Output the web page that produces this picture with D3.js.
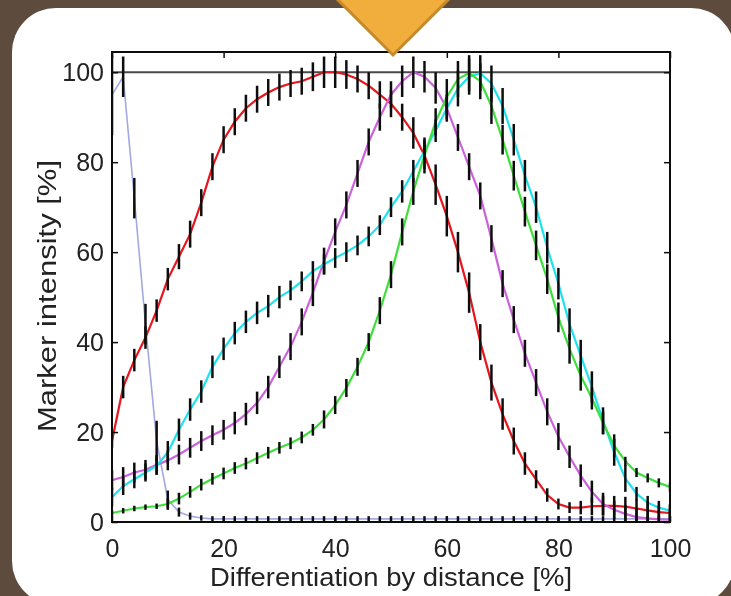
<!DOCTYPE html>
<html>
<head>
<meta charset="utf-8">
<script src="https://cdn.jsdelivr.net/npm/d3@7"></script>
<style>
html, body { margin: 0; padding: 0; background: #5d4b3e; }
svg { display: block; }
text { font-family: "Liberation Sans", Arial, sans-serif; fill: #222; }
</style>
</head>
<body>
<svg width="731" height="596"></svg>
<script>
// x positions (differentiation by distance, %)
var distance = [0,2,4,6,8,10,12,14,16,18,20,22,24,26,28,30,32,34,36,38,40,42,44,46,48,50,
                52,54,56,58,60,62,64,66,68,70,72,74,76,78,80,82,84,86,88,90,92,94,96,98,100];

// marker intensity per series
var red = [18,30,36,41,47,54,59,64,71,79, 85,89,92,94,95.5,96.7,97.5,98,99,100,
           100,99.5,98.5,97,95,93,90,86.5,81.5,75, 68,60,51,40,31,24,18,13,9.5,6,
           4,3.2,3.2,3.5,3.6,3.6,3.4,3,2.6,2.2, 2];
var redErr = [1.5,2.5,2.5,2.5,2.5,2.5,2.8,3,3,3, 3,3,3,3,3,3,3,3,3.2,3.5,
              3.5,3.2,3,3,3,3,3,3.5,4,4.5, 4.5,4.5,4.5,4,4,3.5,3,2.5,2,1.5,
              1.2,1.2,1.5,2,2.2,2.2,2.2,2,2,1.5, 1.5];

var magenta = [9.3,10,11,11.6,12.7,13.7,15,16.5,18,19.3, 20.5,22,24,26.5,30,34.5,39,44.5,51,58,
               64.5,70.5,77.5,84.5,90,95,98,100,99,96.5, 92,85.5,79,72.5,63,53,45,37.5,31,24.5,
               19,14.5,10.3,6.7,4,2.7,1.8,1.1,0.8,0.6, 0.5];
var magentaErr = [2.2,2.2,2.2,2.2,2.2,2.2,2.2,2.2,2.2,2.2, 2.2,2.5,2.5,2.5,2.5,2.5,3,3,3,3,
                  3,3,3,3,3,3,3.5,3.5,3.5,3.5, 3,3,3,3,3,3,3,3,3,3,
                  3,2.5,2.5,2.5,2.5,2,2,2,2,2, 2];

var cyan = [5.5,8,9.5,11,12.5,15.5,20.5,25,29,34.5, 38.5,42,44.5,46.5,48,50,51.5,53.5,55.8,57.3,
            58.7,60,61.5,63.5,66,70,73.5,78,82.5,87, 92,96.4,99,99.8,97.5,92.5,85,77,70,61,
            53,44,37,30,22.5,15.5,9.7,6.3,4.3,3.2, 2.5];
var cyanErr = [2,2,2,2,2,2.5,2.5,2.5,2.5,2.5, 2.5,2.5,2.5,2.5,2.5,2.5,2.2,2.2,2.2,2.2,
               2.2,2.2,2.2,2.2,2.2,2.2,2.5,2.5,2.5,2.5, 2.5,4,4,4,4,4,3.5,3.5,3.5,3.5,
               3.5,3.5,3.5,3.5,3,3,3,1.5,1.5,1.5, 1.5];

var green = [2,2.5,3,3.3,3.5,4,5.2,6.7,8.3,9.6, 10.8,12,13,14.2,15.4,16.5,17.5,18.8,20.5,22.8,
             26,29.8,34.5,40,47,55,64.5,73.5,81.5,89, 94.5,98.5,99.8,98,92.5,85,77,69,61.5,54,
             45.5,38.5,32.5,27.5,22,17,13.5,11,9.8,8.7, 7.8];
var greenErr = [0.6,0.6,0.6,0.6,0.6,1.3,1.3,1.3,1.3,1.3, 1.3,1.3,1.3,1.3,1.3,1.3,1.3,1.3,1.3,2,
                2,2,2,2,3,3,3,3,3,3, 4,4,4,4,4,3.3,3.3,3.3,3.3,3.3,
                3.3,3.3,3.3,2.5,2.5,2.5,1,1,1,1, 1];

var blue = [95,99,72,44,18,5,2.2,1.3,0.9,0.7, 0.7,0.7,0.7,0.7,0.7,0.7,0.7,0.7,0.7,0.7,
            0.7,0.7,0.7,0.7,0.7,0.7,0.7,0.7,0.7,0.7, 0.7,0.7,0.7,0.7,0.7,0.7,0.7,0.7,0.7,0.7,
            0.7,0.7,0.7,0.7,0.7,0.7,0.7,0.7,0.7,0.7, 0.7];
var blueErr = [9,4.5,4.5,4.5,4.5,2,1,0.8,0.6,0.6, 0.6,0.6,0.6,0.6,0.6,0.6,0.6,0.6,0.6,0.6,
               0.6,0.6,0.6,0.6,0.6,0.6,0.6,0.6,0.6,0.6, 0.6,0.6,0.6,0.6,0.6,0.6,0.6,0.6,0.6,0.6,
               0.6,0.6,0.6,0.6,0.6,0.6,0.6,0.6,0.6,0.6, 0.6];

var xTicks = [0,20,40,60,80,100];
var yTicks = [0,20,40,60,80,100];

var series = [
    { values: blue,    err: blueErr,    color: "#a3aae0", width: 1.6 },
    { values: red,     err: redErr,     color: "#e8141c", width: 2.2 },
    { values: magenta, err: magentaErr, color: "#cc62dc", width: 2.2 },
    { values: cyan,    err: cyanErr,    color: "#1ee3ee", width: 2.2 },
    { values: green,   err: greenErr,   color: "#3ee03a", width: 2.2 }
];

var svg = d3.select("svg"),
    width = +svg.attr("width"),
    height = +svg.attr("height");

// brown background + white rounded card (runs off the right edge)
svg.append("rect").attr("width", width).attr("height", height).attr("fill", "#5d4b3e");
svg.append("rect")
    .attr("x", 12).attr("y", 8).attr("width", 723).attr("height", 597)
    .attr("rx", 44).attr("ry", 44)
    .attr("fill", "#ffffff");

var defs = svg.append("defs");
defs.append("filter").attr("id", "soft")
    .append("feGaussianBlur").attr("stdDeviation", 0.6);
defs.append("clipPath").attr("id", "plotclip")
    .append("rect").attr("x", 112).attr("y", 52).attr("width", 558).attr("height", 470);

var x = d3.scaleLinear().domain([0, 100]).range([112, 670]);
var y = d3.scaleLinear().domain([0, 104.5]).range([522, 52]);

var g = svg.append("g").attr("filter", "url(#soft)");
var plot = g.append("g").attr("clip-path", "url(#plotclip)");

// reference line at 100%
plot.append("line")
    .attr("x1", x(0)).attr("x2", x(100))
    .attr("y1", y(100)).attr("y2", y(100))
    .attr("stroke", "#4a4a4a").attr("stroke-width", 2);

var line = d3.line()
    .x(function(d) { return x(d[0]); })
    .y(function(d) { return y(d[1]); });

series.forEach(function(s) {
    plot.append("path")
        .datum(distance.map(function(u, i) { return [u, s.values[i]]; }))
        .attr("fill", "none")
        .attr("stroke", s.color)
        .attr("stroke-width", s.width)
        .attr("d", line);
});

// black error bars on top
series.forEach(function(s) {
    plot.append("g").selectAll("line")
        .data(distance)
        .enter().append("line")
        .attr("x1", function(u) { return x(u); })
        .attr("x2", function(u) { return x(u); })
        .attr("y1", function(u, i) { return y(s.values[i] - s.err[i]); })
        .attr("y2", function(u, i) { return y(s.values[i] + s.err[i]); })
        .attr("stroke", "#111")
        .attr("stroke-width", 2.5);
});

// axes, MATLAB style ticks pointing inward
var axes = g.append("g").attr("class", "axes");
axes.append("g")
    .attr("transform", "translate(0,522)")
    .call(d3.axisBottom(x).tickValues(xTicks).tickSizeInner(-6).tickSizeOuter(0).tickPadding(17));
axes.append("g")
    .attr("transform", "translate(112,0)")
    .call(d3.axisLeft(y).tickValues(yTicks).tickSizeInner(-6).tickSizeOuter(0).tickPadding(8));
axes.append("g")
    .attr("transform", "translate(0,52)")
    .call(d3.axisTop(x).tickValues(xTicks).tickSizeInner(-6).tickSizeOuter(0).tickFormat(""));
axes.append("g")
    .attr("transform", "translate(670,0)")
    .call(d3.axisRight(y).tickValues(yTicks).tickSizeInner(-6).tickSizeOuter(0).tickFormat(""));

axes.selectAll(".domain").remove();
axes.selectAll(".tick line").attr("stroke", "#111").attr("stroke-width", 1.5);
axes.selectAll(".tick text")
    .attr("fill", "#222")
    .style("font-size", "25px")
    .style("font-family", "\"Liberation Sans\", Arial, sans-serif");

g.append("rect")
    .attr("x", 112).attr("y", 52).attr("width", 558).attr("height", 470)
    .attr("fill", "none").attr("stroke", "#111").attr("stroke-width", 2);

// axis titles
g.append("text")
    .attr("x", 391).attr("y", 586)
    .attr("text-anchor", "middle")
    .attr("textLength", 362).attr("lengthAdjust", "spacingAndGlyphs")
    .style("font-size", "25px")
    .text("Differentiation by distance [%]");

g.append("text")
    .attr("transform", "translate(56,296) rotate(-90)")
    .attr("text-anchor", "middle")
    .attr("textLength", 272).attr("lengthAdjust", "spacingAndGlyphs")
    .style("font-size", "25px")
    .text("Marker intensity [%]");

// orange pointer at the top
svg.append("path")
    .attr("d", "M334,-4 L452,-4 L393,55 Z")
    .attr("fill", "#f2ae3c")
    .attr("stroke", "#c78a2b")
    .attr("stroke-width", 3)
    .attr("stroke-linejoin", "miter");
</script>
</body>
</html>
